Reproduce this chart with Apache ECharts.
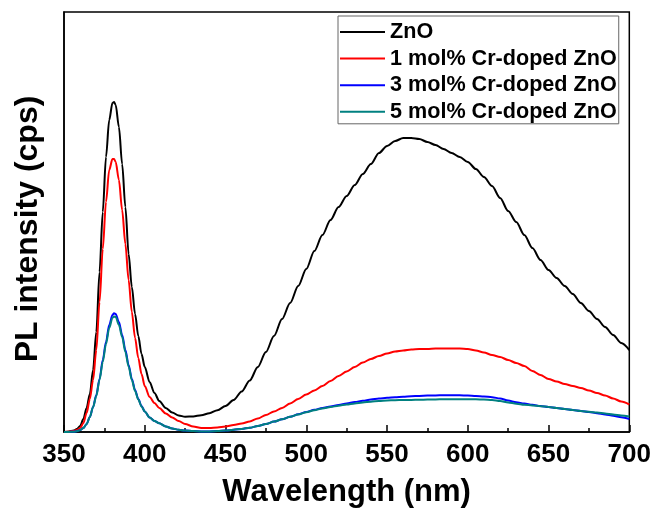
<!DOCTYPE html>
<html>
<head>
<meta charset="utf-8">
<script src="https://cdn.jsdelivr.net/npm/echarts@6/dist/echarts.min.js"></script>
<style>
html,body{margin:0;padding:0;background:#fff;}
#chart{width:654px;height:513px;}
</style>
</head>
<body>
<div id="chart"></div>
<script>
const wavelength = [350,353,356,358,360,362,364,366,368,370,372,374,376,378,380,381,382,384,386,388,390,392,394,396,398,400,403,406,409,413,417,421,425,
430,435,440,445,450,455,460,465,470,475,480,485,490,495,500,505,510,515,520,525,530,535,540,545,550,555,560,565,570,575,580,585,590,595,600,605,610,615,620,625,630,635,640,645,650,655,660,665,670,675,680,685,690,695,700];

const znO = [0,0.5,1.5,3,6,13,24,38,62,100,160,220,275,312,329,330,327,305,268,225,178,145,118,96,78,65,50,39,31,24,19.5,16.5,15.3,
15.6,16.8,18.8,21.8,26,32,40.5,51.5,65,80,
96,113,129,146,163,181,197,212,225,236,
247,258,268,279,286,291,294,294,293,290,
287,283,279,275,270,263,255,246,234,221,
210,197,184,172,162,154,146,138,129,121,
113,105,97,89,82];

const cr1 = [0,0.3,1,2,4,9,19,33,52,82,130,183,230,262,273,273,270,252,222,188,152,120,94,74,58,46,35,29,24,18.5,14.5,11,8,
5.5,4,4,4.6,5.5,7,8.5,10.6,13.5,17,
20.5,24,28.5,33,37.5,41.5,46,51,56,60.5,
65,69.5,73,76,78.5,80.5,81.5,82.5,83,83,
83.5,83.5,83.5,83.5,83,81.5,79.5,77,75,72,
69,66,61,57,53,50.5,48,46,44,41.5,
39,36.5,33.5,30.5,27.5];

const cr3 = [0,0,0.3,0.8,2,4,8,15,25,37,53,72,90,107,117,118.7,118,110,97,82,67,53,42,33,26,20.5,14.5,11,8.7,5.5,3.5,2.2,1.4,
0.9,0.6,0.6,0.9,1.4,2.2,3.1,4.2,6,8,
10.4,12.7,15.2,17.7,20,22.2,24,25.6,27,28.5,
30,31.3,32.4,33.4,34.2,34.8,35.3,35.8,36.1,36.4,
36.6,36.7,36.8,36.7,36.5,36,35.5,34.8,33.5,31.5,
29.8,28.5,27.2,26,25,24,23,22,21,20,
18.8,17.5,16.2,14.7,13];

const cr5 = [0,0,0.3,0.8,2,4,8,15,25,36,52,70,88,104,114,115.5,115,107,95,80,65.5,52,41,32.5,25.5,20.5,14.5,11,8.7,5.5,3.5,2.2,1.4,
0.9,0.6,0.6,0.9,1.4,2.2,3.1,4.2,6,8,
10.4,12.7,15.2,17.5,19.8,21.8,23.5,25,26.3,27.5,
28.6,29.5,30.3,31,31.5,31.8,32,32.1,32.3,32.4,
32.6,32.7,32.8,32.8,32.8,32.7,32.4,32,31,29.5,
28.3,27.3,26.5,25.8,25,24,23,22,21,20.2,
19.4,18.5,17.5,16.5,15.5];

const seriesNames = ['ZnO','1 mol% Cr-doped ZnO','3 mol% Cr-doped ZnO','5 mol% Cr-doped ZnO'];
const seriesColors = ['#000000','#ff0000','#0000ff','#008080'];
const seriesValues = [znO, cr1, cr3, cr5];
const xMin = 350, xMax = 700, xStep = 50;

const FONT = '"Liberation Sans", Arial, sans-serif';
const chart = echarts.init(document.getElementById('chart'), null, {renderer:'canvas'});

const series = seriesValues.map((vals, i) => ({
  name: seriesNames[i],
  type: 'line',
  data: wavelength.map((w, j) => [w, vals[j]]),
  symbol: 'none',
  showSymbol: false,
  smooth: 0.3,
  smoothMonotone: 'x',
  lineStyle: {color: seriesColors[i], width: 2},
  itemStyle: {color: seriesColors[i]},
  z: 2 + i
}));

chart.setOption({
  animation: false,
  backgroundColor: '#fff',
  grid: {left: 64, right: 24, top: 12, bottom: 81, show: true, borderColor: '#000', borderWidth: 1.5, backgroundColor: 'transparent'},
  legend: {
    data: seriesNames,
    orient: 'vertical',
    left: 338, top: 16,
    icon: 'rect',
    itemWidth: 45, itemHeight: 2,
    itemGap: 4.6,
    padding: [5, 2, 1, 2],
    borderColor: '#666', borderWidth: 1,
    backgroundColor: '#fff',
    textStyle: {fontFamily: FONT, fontSize: 21.6, fontWeight: 'bold', color: '#000'}
  },
  xAxis: {
    type: 'value', min: xMin, max: xMax, interval: xStep,
    name: 'Wavelength (nm)', nameLocation: 'middle', nameGap: 45,
    nameTextStyle: {fontFamily: FONT, fontSize: 31, fontWeight: 'bold', color: '#000'},
    axisLine: {show: true, lineStyle: {color: '#000', width: 1.5}},
    axisTick: {show: true, inside: true, length: 7, lineStyle: {color: '#000', width: 1.5}},
    minorTick: {show: true, splitNumber: 2, length: 4, lineStyle: {color: '#000', width: 1.5}},
    axisLabel: {fontFamily: FONT, fontSize: 26, fontWeight: 'bold', color: '#000', margin: 10},
    splitLine: {show: false}
  },
  yAxis: {
    type: 'value', min: 0, max: 420,
    name: 'PL intensity (cps)', nameLocation: 'middle', nameGap: 20,
    nameTextStyle: {fontFamily: FONT, fontSize: 32, fontWeight: 'bold', color: '#000', padding: [0, 14, 0, 0]},
    axisLine: {show: true, lineStyle: {color: '#000', width: 1.5}},
    axisTick: {show: false},
    axisLabel: {show: false},
    splitLine: {show: false}
  },
  series: series
});
</script>
</body>
</html>
